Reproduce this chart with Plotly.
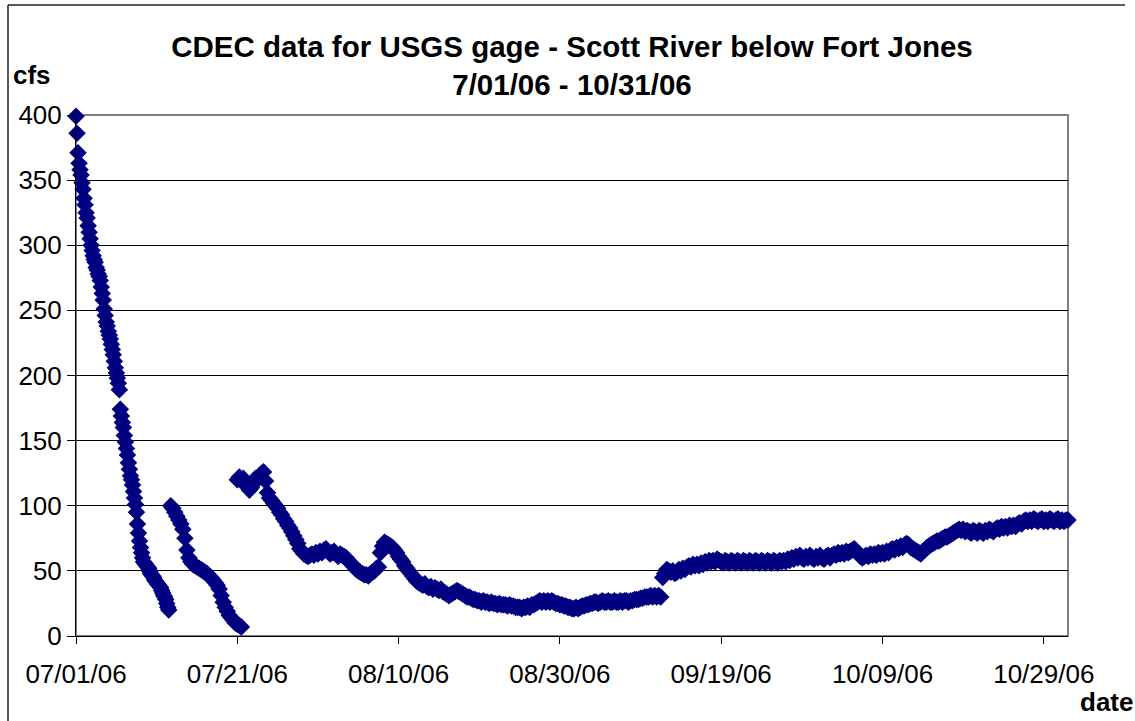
import pandas as pd
import plotly.graph_objects as go

# Scott River below Fort Jones (USGS gage), CDEC flow record, Jul-Oct 2006.
# Each block is a run of readings: start time, sampling step (hours), flows (cfs).
seg_start = [
    "2006-07-01 00:00",
    "2006-07-06 12:00",
    "2006-07-12 18:00",
    "2006-07-21 00:00",
    "2006-08-07 18:00",
    "2006-09-11 18:00",
]
seg_step_hours = [3, 3, 6, 6, 6, 6]

flow_a = [399, 386, 371, 363, 358, 354, 348, 343, 336, 331, 325, 321, 315, 310, 305, 300,
          296, 292, 289, 287, 283, 281, 278, 276, 273, 268, 263, 258, 251, 246, 241, 238,
          234, 231, 228, 224, 220, 216, 211, 206, 202, 198, 194, 189]

flow_b = [174, 169, 164, 160, 154, 149, 144, 139, 133, 128, 123, 120, 116, 111, 106, 101,
          95, 86, 79, 73, 68, 64, 60, 57, 56, 55, 54, 53, 52, 50, 48, 47,
          46, 45, 43, 42, 41, 40, 39, 38, 37, 35, 33, 31, 30, 28, 25, 22, 20]

flow_c = [100, 98, 95, 92, 89, 86, 82, 75, 66, 60, 57, 55, 54, 53, 52, 51, 50, 49,
          48, 46, 45, 43, 41, 39, 36, 31, 26, 22, 19, 16, 14, 12, 10, 9, 8, 7]

flow_d = [120, 122, 119, 121, 118, 115, 112, 114, 119, 121,
          120, 123, 125, 126, 119, 110, 106, 104, 102, 100,
          98, 95, 93, 90, 88, 85, 83, 80, 77, 74,
          71, 67, 65, 63, 62, 61, 62, 63, 62, 64,
          63, 65, 64, 66, 67, 65, 63, 64, 65, 63,
          61, 63, 62, 61, 60, 58, 56, 55, 53, 51,
          50, 49, 48, 47, 47, 46, 48, 49, 50, 52,
          53]

flow_e = [64, 69, 72, 71, 70, 69, 68, 66,
          64, 61, 59, 57, 54, 52, 50, 48,
          46, 44, 42, 41, 40, 39, 40, 38,
          37, 38, 36, 37, 36, 35, 36, 34,
          33, 32, 31, 32, 33, 34, 35, 34,
          33, 32, 31, 30, 30, 29, 28, 28,
          27, 27, 26, 27, 26, 26, 25, 26,
          25, 25, 24, 25, 24, 24, 24, 23,
          24, 23, 23, 22, 22, 22, 21, 22,
          22, 23, 22, 24, 24, 25, 26, 27,
          26, 27, 26, 27, 26, 27, 26, 25,
          25, 24, 24, 23, 23, 22, 22, 21,
          21, 22, 21, 22, 23, 23, 24, 24,
          25, 25, 26, 26, 25, 26, 27, 26,
          26, 27, 26, 26, 27, 26, 26, 27,
          26, 27, 27, 26, 27, 27, 28, 28,
          28, 29, 29, 30, 30, 30, 31, 30,
          31, 30, 31, 30]

flow_f = [45,
          48, 51, 50, 49, 50, 48, 49, 51, 50, 52, 51, 53, 54, 53, 55, 54,
          55, 54, 56, 55, 57, 56, 58, 57, 58, 57, 59, 58, 57, 56, 58, 57,
          56, 58, 57, 56, 58, 57, 56, 58, 57, 56, 58, 57, 56, 58, 57, 56,
          58, 57, 56, 58, 57, 56, 58, 57, 56, 58, 57, 58, 57, 59, 58, 60,
          59, 61, 60, 62, 60, 59, 61, 60, 62, 60, 59, 61, 60, 62, 60, 59,
          61, 62, 60, 62, 63, 62, 64, 63, 64, 63, 65, 64, 65, 66, 67, 65,
          63, 61, 60, 61, 62, 61, 63, 62, 63, 62, 64, 63, 64, 63, 65, 64,
          66, 67, 66, 68, 67, 69, 68, 70, 71, 70, 68, 67, 66, 65, 64, 63,
          65, 66, 68, 69, 70, 71, 72, 73, 73, 74, 75, 76, 76, 77, 78, 79,
          80, 81, 82, 81, 82, 80, 81, 80, 79, 81, 80, 79, 81, 80, 79, 81,
          80, 82, 81, 80, 82, 83, 82, 84, 83, 84, 83, 85, 84, 85, 84, 86,
          87, 86, 88, 89, 88, 89, 88, 90, 89, 88, 89, 90, 88, 89, 88, 90,
          89, 88, 89, 90, 88, 89, 88, 89,
          89]

segments = [flow_a, flow_b, flow_c, flow_d, flow_e, flow_f]

y_ticks = [0, 50, 100, 150, 200, 250, 300, 350, 400]
x_range = ["2006-07-01", "2006-11-01"]

times, flows = [], []
for start, step, vals in zip(seg_start, seg_step_hours, segments):
    times.extend(pd.date_range(start, periods=len(vals), freq=f"{step}h"))
    flows.extend(vals)

FONT = "Arial, 'Liberation Sans', sans-serif"
NAVY = "#000080"

fig = go.Figure()
fig.add_trace(go.Scatter(
    x=times, y=flows, mode="markers",
    marker=dict(symbol="diamond", size=13.5, color=NAVY, line=dict(width=0)),
    cliponaxis=False, showlegend=False, hoverinfo="x+y",
))

# plot area: 76..1068 px horizontally, 115..636 px vertically
L, R, T, B = 76, 1068, 115, 636
W, H = R - L, B - T


def px_x(px):
    return (px - L) / W


def px_y(py):
    return (B - py) / H


fig.update_layout(
    width=1135, height=721,
    margin=dict(l=L, r=1135 - R, t=T, b=721 - B, autoexpand=False),
    paper_bgcolor="white", plot_bgcolor="white",
    font=dict(family=FONT, color="black", size=26),
    title=dict(
        text="<b>CDEC data for USGS gage - Scott River below Fort Jones</b><br>"
             "<b>7/01/06 - 10/31/06</b>",
        x=0.5, xref="paper", xanchor="center",
        y=1 - 57 / 721, yref="container", yanchor="top",
        font=dict(family=FONT, size=29.5, color="black"),
    ),
    xaxis=dict(
        type="date", range=x_range,
        tick0="2006-07-01", dtick=20 * 86400000, tickformat="%m/%d/%y",
        showgrid=False, zeroline=False,
        showline=True, linecolor="black", linewidth=1,
        ticks="outside", ticklen=7, tickcolor="black", tickwidth=1,
        tickfont=dict(family=FONT, size=26, color="black"),
        ticklabelstandoff=8,
    ),
    yaxis=dict(
        range=[0, 400], tickvals=y_ticks,
        showgrid=True, gridcolor="black", gridwidth=1,
        zeroline=False,
        showline=True, linecolor="black", linewidth=1,
        ticks="outside", ticklen=8, tickcolor="black", tickwidth=1,
        tickfont=dict(family=FONT, size=26, color="black"),
        ticklabelstandoff=0,
    ),
    shapes=[
        # plot-area frame (grey)
        dict(type="rect", xref="paper", yref="paper", x0=0, y0=0, x1=1, y1=1,
             line=dict(color="#808080", width=2), layer="below"),
        # chart frame, top and left edges
        dict(type="line", xref="paper", yref="paper",
             x0=px_x(8), x1=px_x(1125), y0=px_y(5), y1=px_y(5),
             line=dict(color="#202020", width=1.5)),
        dict(type="line", xref="paper", yref="paper",
             x0=px_x(8), x1=px_x(8), y0=px_y(5), y1=px_y(725),
             line=dict(color="#202020", width=1.5)),
    ],
    annotations=[
        dict(text="<b>cfs</b>", xref="paper", yref="paper",
             x=px_x(11), y=px_y(92), xanchor="left", yanchor="bottom",
             showarrow=False, font=dict(family=FONT, size=26, color="black")),
        dict(text="<b>date</b>", xref="paper", yref="paper",
             x=px_x(1135), y=px_y(719), xanchor="right", yanchor="bottom",
             showarrow=False, font=dict(family=FONT, size=26, color="black")),
    ],
)

fig.write_html("out.html")
